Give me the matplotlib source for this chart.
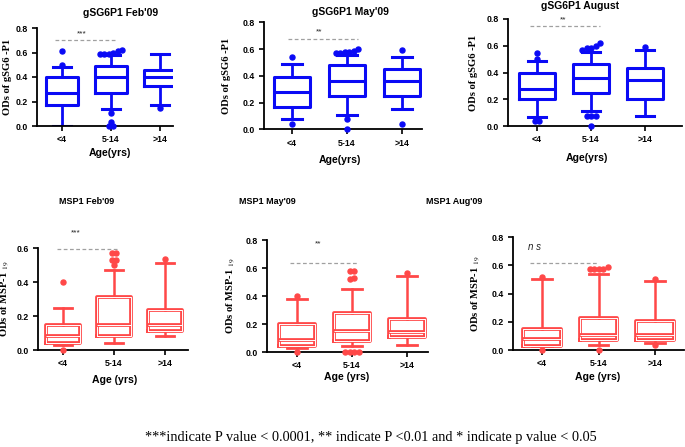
import matplotlib
matplotlib.use("Agg")
import matplotlib.pyplot as plt

plt.rcParams['mathtext.fontset'] = 'stix'

W, H = 685, 447

categories = ["<4", "5-14", ">14"]

# ---------- data ----------
titles = ["gSG6P1 Feb'09", "gSG6P1 May'09", "gSG6P1 August",
          "MSP1 Feb'09", "MSP1 May'09", "MSP1 Aug'09"]

q1_vals = [[0.17, 0.27, 0.33], [0.17, 0.25, 0.25], [0.20, 0.25, 0.20],
           [0.04, 0.08, 0.112], [0.04, 0.08, 0.107], [0.03, 0.07, 0.07]]
med_vals = [[0.27, 0.40, 0.40], [0.28, 0.365, 0.36], [0.275, 0.357, 0.345],
            [0.08, 0.147, 0.15], [0.083, 0.148, 0.143], [0.078, 0.106, 0.106]]
q3_vals = [[0.40, 0.49, 0.46], [0.39, 0.48, 0.45], [0.40, 0.464, 0.43],
           [0.147, 0.31, 0.236], [0.203, 0.28, 0.234], [0.146, 0.23, 0.207]]
wlo_vals = [[0.0, 0.14, 0.17], [0.08, 0.11, 0.15], [0.065, 0.11, 0.075],
            [0.03, 0.043, 0.08], [0.03, 0.04, 0.047], [0.025, 0.035, 0.047]]
whi_vals = [[0.48, 0.58, 0.59], [0.49, 0.56, 0.545], [0.485, 0.556, 0.565],
            [0.245, 0.47, 0.51], [0.38, 0.45, 0.54], [0.506, 0.54, 0.49]]
outlier_vals = [
    [[0.61, 0.50], [0.61, 0.62, 0.59, 0.59, 0.60, 0.59, 0.11, 0.035, 0.0, 0.0], [0.145]],
    [[0.545, 0.04], [0.59, 0.58, 0.57, 0.57, 0.58, 0.60, 0.08, 0.0], [0.595, 0.04]],
    [[0.50, 0.545, 0.04, 0.04], [0.60, 0.62, 0.58, 0.57, 0.58, 0.075, 0.075, 0.075, 0.0], [0.59]],
    [[0.40, 0.0], [0.50, 0.53, 0.53, 0.57, 0.57], [0.535]],
    [[0.40, 0.0], [0.52, 0.53, 0.58, 0.58, 0.0, 0.0, 0.0, 0.0], [0.565]],
    [[0.52, 0.0], [0.57, 0.57, 0.57, 0.57, 0.59, 0.0], [0.505, 0.035]],
]
sig_labels = ["***", "**", "**", "***", "**", "ns"]
sig_line_y = [0.705, 0.68, 0.745, 0.595, 0.633, 0.617]
sig_text_y = [0.755, 0.73, 0.79, 0.69, 0.77, 0.73]
ytop = [0.8, 0.8, 0.8, 0.6, 0.8, 0.8]
yticks_list = [[0.0, 0.2, 0.4, 0.6, 0.8]] * 3 + [[0.0, 0.2, 0.4, 0.6]] + [[0.0, 0.2, 0.4, 0.6, 0.8]] * 2
ylabels = ["ODs of gSG6 -P1"] * 3 + [r"ODs of MSP-1 $_{19}$"] * 3
xlabels = ["Age(yrs)"] * 3 + ["Age (yrs)"] * 3

# ---------- layout in pixels ----------
geo = [
    (37, 173, 28, 126, 62, 49),
    (264, 422, 22.5, 129.5, 292, 55),
    (508, 682, 19, 126, 537, 54),
    (38, 188, 248, 350, 63, 51),
    (267, 428, 240, 352, 297, 55),
    (513, 684, 237, 350, 542, 56.5),
]
title_pos = [(121, 13), (350, 12), (580, 6), (87, 202), (267, 202), (454, 202)]
ylabel_x = [12, 231, 478, 11, 237, 482]
xlabel_pos = [(110, 153), (340, 160), (587, 158), (115, 380), (347, 377), (598, 377)]
sig_span = [(55, 115), (288, 358), (530, 600), (57, 118), (290, 357), (530, 598)]
sig_text_x = [82, 319, 563, 76, 318, 535]

BLUE = "#0a0af5"
RED = "#ff4848"


def spread(vals, step):
    """Horizontal offsets for outliers that share nearly the same value."""
    order = sorted(range(len(vals)), key=lambda k: vals[k])
    groups, cur = [], []
    for k in order:
        if cur and vals[k] - vals[cur[-1]] > 0.028:
            groups.append(cur)
            cur = []
        cur.append(k)
    if cur:
        groups.append(cur)
    offs = [0.0] * len(vals)
    for g in groups:
        n = len(g)
        for m, k in enumerate(g):
            offs[k] = (m - (n - 1) / 2) * step
    return offs


fig = plt.figure(figsize=(W / 100, H / 100), dpi=100)

for i in range(6):
    xl, xr, yt, y0, t0, sp = geo[i]
    ax = fig.add_axes([xl / W, 1 - y0 / H, (xr - xl) / W, (y0 - yt) / H])
    x_left = 1 - (t0 - xl) / sp
    x_right = 3 + (xr - (t0 + 2 * sp)) / sp
    ax.set_xlim(x_left, x_right)
    ax.set_ylim(0, ytop[i])

    stats = []
    for j in range(3):
        stats.append(dict(q1=q1_vals[i][j], med=med_vals[i][j], q3=q3_vals[i][j],
                          whislo=wlo_vals[i][j], whishi=whi_vals[i][j],
                          fliers=[], label=categories[j]))
    col = BLUE if i < 3 else RED
    lw = 2.2 if i < 3 else 2.7
    ax.bxp(stats, positions=[1, 2, 3], widths=0.67, showfliers=False,
           boxprops=dict(color=col, linewidth=lw),
           medianprops=dict(color=col, linewidth=lw),
           whiskerprops=dict(color=col, linewidth=2.0 if i < 3 else 1.8),
           capprops=dict(color=col, linewidth=2.2 if i < 3 else 2.0),
           capwidths=0.35)
    if i >= 3:
        ax.bxp(stats, positions=[1, 2, 3], widths=0.67, showcaps=False,
               showfliers=False,
               boxprops=dict(color='white', linewidth=0.7),
               medianprops=dict(color='white', linewidth=0.7),
               whiskerprops=dict(linewidth=0))
    for j in range(3):
        ov = outlier_vals[i][j]
        offs = spread(ov, 4.5 / sp)
        ax.plot([j + 1 + o for o in offs], ov, linestyle='none', marker='o',
                markersize=3.6, markerfacecolor=col, markeredgecolor=col,
                clip_on=False, zorder=4)

    ax.spines['top'].set_visible(False)
    ax.spines['right'].set_visible(False)
    for s in ['left', 'bottom']:
        ax.spines[s].set_linewidth(1.3)
        ax.spines[s].set_color('black')
    ax.set_xticks([1, 2, 3])
    ax.set_xticklabels(categories)
    ax.set_yticks(yticks_list[i])
    ax.set_yticklabels(["%.1f" % v for v in yticks_list[i]])
    ax.tick_params(axis='both', direction='out', length=3.5, width=1.2,
                   labelsize=6.3, pad=3)
    for lab in ax.get_xticklabels() + ax.get_yticklabels():
        lab.set_fontweight('bold')
        lab.set_family('Liberation Sans')

    xa, xb = sig_span[i]
    xa_d = x_left + (xa - xl) / sp
    xb_d = x_left + (xb - xl) / sp
    ax.plot([xa_d, xb_d], [sig_line_y[i], sig_line_y[i]], color='#a0a0a0',
            linewidth=0.9, linestyle=(0, (3, 2)), clip_on=False)
    xt_d = x_left + (sig_text_x[i] - xl) / sp
    if sig_labels[i] == "ns":
        ax.text(xt_d, sig_text_y[i], "n s", fontsize=7, style='italic',
                family='Liberation Sans', ha='center', va='center', color='#222222')
    else:
        ax.text(xt_d, sig_text_y[i], sig_labels[i], fontsize=6, ha='center',
                va='center', color='#222222', family='Liberation Sans')

    ax.set_ylabel(ylabels[i], family='Liberation Serif', fontsize=7.6, fontweight='bold')
    ax.yaxis.set_label_coords((ylabel_x[i] - xl) / (xr - xl), 0.5)
    tx, ty = title_pos[i]
    fig.text(tx / W, 1 - ty / H, titles[i], ha='center', va='center',
             fontsize=7.5 if i < 3 else 6.5, fontweight='bold', family='Liberation Sans')
    lx, ly = xlabel_pos[i]
    fig.text(lx / W, 1 - ly / H, xlabels[i], ha='center', va='center',
             fontsize=7.6, fontweight='bold', family='Liberation Sans')

fig.text(371 / W, 1 - 437 / H,
         "***indicate P value < 0.0001, ** indicate P <0.01 and * indicate p value < 0.05",
         ha='center', va='center', fontsize=10.3, family='Liberation Serif')

fig.savefig("out.png", dpi=100)
